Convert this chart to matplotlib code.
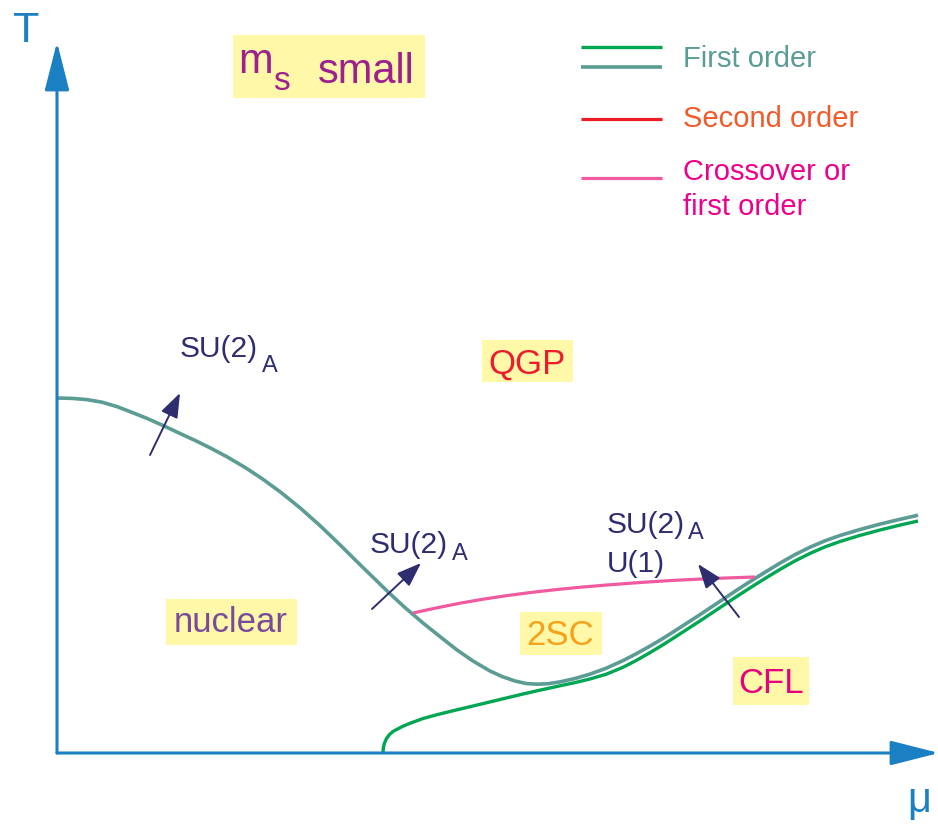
import matplotlib
matplotlib.use("Agg")
import matplotlib.pyplot as plt
from matplotlib.patches import FancyArrowPatch, Rectangle

plt.rcParams["font.family"] = ["Liberation Sans", "DejaVu Sans"]

# Phase boundaries in the (mu, T) plane, arbitrary units
chiral_mu = [0.000, 0.150, 0.300, 0.450, 0.600, 0.750, 0.900, 1.060, 1.230,
             1.380, 1.530, 1.700, 1.880, 2.050, 2.230, 2.430, 2.630, 2.830,
             2.980, 3.150, 3.330, 3.480, 3.660, 3.830, 4.000, 4.160, 4.330,
             4.450, 4.580, 4.690, 4.800, 4.910, 5.030, 5.180, 5.330, 5.490,
             5.660, 5.790, 5.930, 6.050, 6.160, 6.290, 6.430, 6.540, 6.660,
             6.800, 6.930, 7.080, 7.230, 7.380, 7.530, 7.680, 7.830, 8.030,
             8.230, 8.430, 8.610]
chiral_T = [3.550, 3.546, 3.534, 3.508, 3.464, 3.406, 3.346, 3.275, 3.195,
            3.126, 3.052, 2.962, 2.856, 2.744, 2.613, 2.452, 2.274, 2.082,
            1.933, 1.767, 1.592, 1.454, 1.300, 1.164, 1.030, 0.920, 0.820,
            0.765, 0.720, 0.695, 0.688, 0.693, 0.711, 0.745, 0.789, 0.847,
            0.924, 0.991, 1.069, 1.140, 1.209, 1.293, 1.384, 1.457, 1.537,
            1.630, 1.714, 1.808, 1.899, 1.984, 2.058, 2.122, 2.175, 2.235,
            2.289, 2.337, 2.378]

cfl_mu = [3.260, 3.263, 3.275, 3.295, 3.325, 3.360, 3.400, 3.460, 3.530,
          3.660, 3.800, 3.950, 4.160, 4.410, 4.660, 4.800, 4.910, 5.030,
          5.180, 5.330, 5.490, 5.660, 5.790, 5.930, 6.050, 6.160, 6.290,
          6.430, 6.540, 6.660, 6.800, 6.930, 7.080, 7.230, 7.380, 7.530,
          7.680, 7.830, 8.030, 8.230, 8.430, 8.610]
cfl_T = [0.000, 0.050, 0.100, 0.145, 0.185, 0.215, 0.237, 0.268, 0.297,
         0.345, 0.383, 0.420, 0.470, 0.530, 0.590, 0.622, 0.646, 0.672,
         0.704, 0.740, 0.787, 0.857, 0.924, 1.004, 1.076, 1.146, 1.230,
         1.321, 1.394, 1.474, 1.567, 1.651, 1.745, 1.836, 1.921, 1.996,
         2.061, 2.115, 2.176, 2.230, 2.279, 2.320]

cross_mu = [3.560, 3.790, 4.030, 4.260, 4.500, 4.760, 5.030, 5.260, 5.500,
            5.830, 6.160, 6.570, 6.980]
cross_T = [1.400, 1.450, 1.498, 1.538, 1.574, 1.608, 1.638, 1.660, 1.680,
           1.705, 1.726, 1.746, 1.760]

# Symmetry arrows: (tail, head)
sym_arrows = [((0.93, 2.98), (1.23, 3.60)),
              ((3.15, 1.44), (3.64, 1.90)),
              ((6.82, 1.36), (6.41, 1.89))]

# Phase labels: text, colour, centre mu, baseline T, box (x0, y0, x1, y1)
phases = [("QGP", "#ec1c2e", 4.70, 3.79, (4.25, 3.71, 5.16, 4.13)),
          ("nuclear", "#7a4b9c", 1.74, 1.21, (1.09, 1.08, 2.40, 1.54)),
          ("2SC", "#f7a11a", 5.03, 1.08, (4.63, 0.98, 5.45, 1.41)),
          ("CFL", "#e6007e", 7.14, 0.60, (6.76, 0.48, 7.52, 0.96))]

legend_labels = ["First order", "Second order", "Crossover or\nfirst order"]

AXIS = "#1b7fc3"
TEAL = "#5b9c94"
GREEN = "#00a651"
RED = "#ed1c24"
PINK = "#ef5aa0"
NAVY = "#2e2d6f"
BOX = "#fff8a8"
PURPLE = "#9e1f8e"

fig = plt.figure(figsize=(9.38, 8.25), dpi=100)
ax = fig.add_axes([0, 0, 1, 1])
ax.set_xlim(-0.57, 8.81)
ax.set_ylim(-0.72, 7.53)
ax.axis("off")

# Axes with arrow heads
for tip in [(0, 7.11), (8.82, 0)]:
    ax.add_patch(FancyArrowPatch((0, 0), tip,
                                 arrowstyle="-|>,head_length=30,head_width=7.6",
                                 mutation_scale=1, shrinkA=0, shrinkB=0,
                                 lw=2.2, color=AXIS, zorder=3))
ax.text(-0.44, 7.11, "T", color=AXIS, fontsize=31, ha="left", va="baseline")
ax.text(8.62, -0.59, "μ", color=AXIS, fontsize=30, ha="center", va="baseline")

# Phase boundaries
line_kw = dict(solid_capstyle="butt", solid_joinstyle="round", zorder=2)
ax.plot(cfl_mu, cfl_T, color=GREEN, lw=2.4, **line_kw)
ax.plot(chiral_mu, chiral_T, color=TEAL, lw=2.6, **line_kw)
ax.plot(cross_mu, cross_T, color=PINK, lw=2.3, **line_kw)

# Symmetry arrows
for tail, head in sym_arrows:
    ax.add_patch(FancyArrowPatch(tail, head,
                                 arrowstyle="-|>,head_length=15,head_width=5.5",
                                 mutation_scale=1, shrinkA=0, shrinkB=0,
                                 lw=1.4, color=NAVY, zorder=4))

sub_fs = 17
main_fs = 21.5
ax.text(1.23, 3.96, "SU(2)", color=NAVY, fontsize=main_fs, ha="left", va="baseline")
ax.text(2.05, 3.81, "A", color=NAVY, fontsize=sub_fs, ha="left", va="baseline")
ax.text(3.13, 2.00, "SU(2)", color=NAVY, fontsize=main_fs, ha="left", va="baseline")
ax.text(3.95, 1.93, "A", color=NAVY, fontsize=sub_fs, ha="left", va="baseline")
ax.text(5.50, 2.20, "SU(2)", color=NAVY, fontsize=main_fs, ha="left", va="baseline")
ax.text(6.31, 2.14, "A", color=NAVY, fontsize=sub_fs, ha="left", va="baseline")
ax.text(5.50, 1.81, "U(1)", color=NAVY, fontsize=main_fs, ha="left", va="baseline")

# Phase labels on yellow boxes
for name, col, xc, yb, (x0, y0, x1, y1) in phases:
    ax.add_patch(Rectangle((x0, y0), x1 - x0, y1 - y0, fc=BOX, ec="none", zorder=1))
    ax.text(xc, yb, name, color=col, fontsize=25, ha="center", va="baseline", zorder=5)

# Title box
ax.add_patch(Rectangle((1.76, 6.55), 1.92, 0.63, fc=BOX, ec="none", zorder=1))
ax.text(1.81, 6.80, "m", color=PURPLE, fontsize=30, ha="left", va="baseline")
ax.text(2.16, 6.63, "s", color=PURPLE, fontsize=24, ha="left", va="baseline")
ax.text(2.61, 6.70, "small", color=PURPLE, fontsize=30, ha="left", va="baseline")

# Legend
lx = [5.24, 6.05]
ax.plot(lx, [7.06, 7.06], color=GREEN, lw=2.4, solid_capstyle="butt")
ax.plot(lx, [6.86, 6.86], color=TEAL, lw=2.6, solid_capstyle="butt")
ax.plot(lx, [6.34, 6.34], color=RED, lw=2.3, solid_capstyle="butt")
ax.plot(lx, [5.75, 5.75], color=PINK, lw=2.3, solid_capstyle="butt")
ax.text(6.26, 6.86, legend_labels[0], color="#5a9c96", fontsize=21,
        ha="left", va="baseline")
ax.text(6.26, 6.26, legend_labels[1], color="#f15a29", fontsize=21,
        ha="left", va="baseline")
for i, line in enumerate(legend_labels[2].split("\n")):
    ax.text(6.26, 5.73 - 0.35 * i, line, color="#ec008c", fontsize=21,
            ha="left", va="baseline")

fig.savefig("out.png", dpi=100)
